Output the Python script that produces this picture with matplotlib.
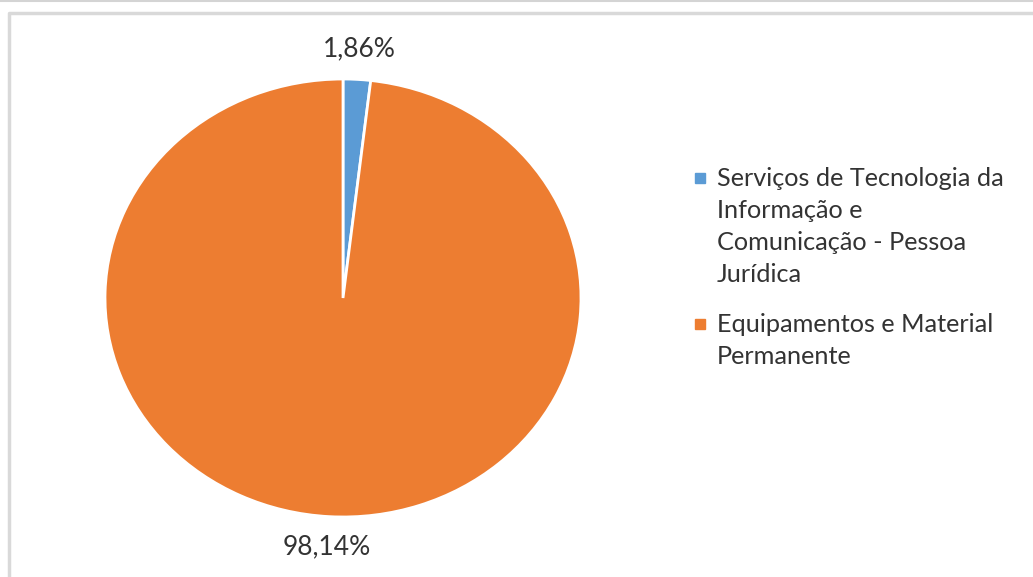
import matplotlib.pyplot as plt
from matplotlib.lines import Line2D
from matplotlib.patches import Rectangle

categorias = ["Serviços de Tecnologia da\nInformação e\nComunicação - Pessoa\nJurídica",
              "Equipamentos e Material\nPermanente"]
valores = [1.86, 98.14]
cores = ["#5B9BD5", "#ED7D31"]

plt.rcParams['font.family'] = ['Lato', 'DejaVu Sans']

W, H = 1033, 577
fig = plt.figure(figsize=(W / 100, H / 100), dpi=100)

# moldura cinza do gráfico
fig.add_artist(Line2D([0, 1], [1 - 0.5 / H, 1 - 0.5 / H], color="#d4d4d4", lw=1.5))
fig.add_artist(Line2D([9 / W, 9 / W, 1], [0, 1 - 13 / H, 1 - 13 / H], color="#d9d9d9", lw=2.5))

ax = fig.add_axes([105 / W, 60 / H, 476 / W, 438 / H])
wedges, textos, pcts = ax.pie(valores, colors=cores, startangle=90, counterclock=False,
                              autopct=lambda p: f"{p:.2f}%".replace(".", ","),
                              pctdistance=1.14, radius=1,
                              wedgeprops=dict(edgecolor="white", linewidth=2),
                              textprops=dict(fontsize=19, color="#333333"))
ax.set_aspect('auto')
ax.set_xlim(-1, 1)
ax.set_ylim(-1, 1)

# legenda desenhada à mão: quadrado alinhado com a primeira linha do rótulo
base = 186
for cor, rotulo in zip(cores, categorias):
    fig.add_artist(Rectangle((695 / W, 1 - (base - 3) / H), 10 / W, 10 / H,
                             color=cor, transform=fig.transFigure))
    for i, linha in enumerate(rotulo.split("\n")):
        fig.text(717 / W, 1 - (base + 32 * i) / H, linha, fontsize=18.2,
                 color="#333333", va="baseline", ha="left")
    base += 32 * len(rotulo.split("\n")) + 18

plt.savefig("out.png", dpi=100)
